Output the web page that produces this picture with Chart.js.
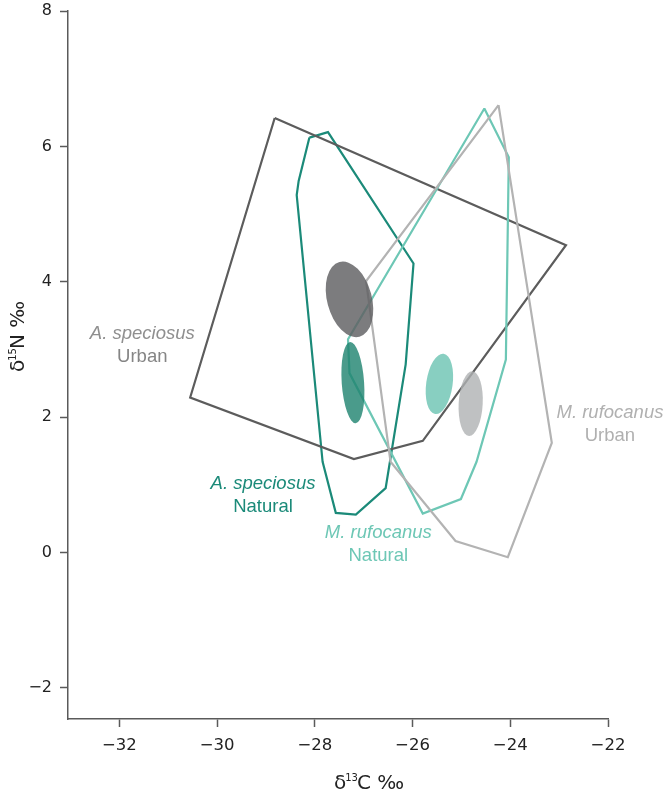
<!DOCTYPE html>
<html>
<head>
<meta charset="utf-8">
<script src="https://cdn.jsdelivr.net/npm/chart.js@4"></script>
<style>
  html, body { margin: 0; background: #fff; }
</style>
</head>
<body>
<canvas id="chart" width="664" height="797"></canvas>
<script>
// convex hulls (δ13C, δ15N) per group
const speciosusUrbanX = [-28.82, -22.86, -25.79, -27.20, -30.55];
const speciosusUrbanY = [6.42, 4.54, 1.65, 1.38, 2.29];

const speciosusNaturalX = [-28.11, -27.73, -25.98, -26.14, -26.55, -27.16, -27.57, -27.84, -28.37, -28.33];
const speciosusNaturalY = [6.13, 6.21, 4.27, 2.78, 0.95, 0.56, 0.585, 1.34, 5.28, 5.49];

const rufocanusNaturalX = [-24.53, -24.03, -24.09, -24.69, -25.01, -25.79, -27.29, -27.32];
const rufocanusNaturalY = [6.56, 5.84, 2.85, 1.34, 0.79, 0.575, 2.65, 3.15];

const rufocanusUrbanX = [-24.24, -23.15, -24.05, -25.12, -26.45, -26.95];
const rufocanusUrbanY = [6.61, 1.62, -0.07, 0.17, 1.34, 4.01];

// standard ellipses: A. speciosus urban, A. speciosus natural, M. rufocanus natural, M. rufocanus urban
const ellipseX = [-27.29, -27.22, -25.45, -24.81];
const ellipseY = [3.74, 2.51, 2.49, 2.20];
const ellipseRx = [0.457, 0.229, 0.270, 0.246];
const ellipseRy = [0.571, 0.601, 0.449, 0.478];
const ellipseTilt = [-15, -4, 8, 3];

const xTicks = [-32, -30, -28, -26, -24, -22];
const yTicks = [-2, 0, 2, 4, 6, 8];

const AXIS = "#5a5a5a";
const ellipseColors = [
  "rgba(95,95,97,0.82)",
  "rgba(29,130,110,0.8)",
  "rgba(106,195,178,0.8)",
  "rgba(175,178,179,0.8)",
];

function hull(xs, ys) {
  const pts = xs.map((x, i) => ({ x, y: ys[i] }));
  pts.push(pts[0]);
  return pts;
}

function line(data, color) {
  return {
    data,
    showLine: true,
    borderColor: color,
    borderWidth: 2.2,
    pointRadius: 0,
    fill: false,
    tension: 0,
  };
}

const minus = (v) => (v < 0 ? "\u2212" + Math.abs(v) : String(v));

// group labels, placed in data coordinates
const notes = [
  { x: -31.53, y: 3.225, name: "A. speciosus", habitat: "Urban", c1: "#8f8f8f", c2: "#858585" },
  { x: -29.06, y: 1.02, name: "A. speciosus", habitat: "Natural", c1: "#1b8a79", c2: "#1b8a79" },
  { x: -26.70, y: 0.288, name: "M. rufocanus", habitat: "Natural", c1: "#6dc7b5", c2: "#6dc7b5" },
  { x: -21.96, y: 2.058, name: "M. rufocanus", habitat: "Urban", c1: "#b0b0b0", c2: "#b0b0b0" },
];

const ellipsePlugin = {
  id: "ellipses",
  afterDatasetsDraw(chart) {
    const { ctx, scales: { x, y } } = chart;
    ellipseX.forEach((cx, i) => {
      const px = x.getPixelForValue(cx);
      const py = y.getPixelForValue(ellipseY[i]);
      const rx = Math.abs(x.getPixelForValue(cx + ellipseRx[i]) - px);
      const ry = Math.abs(y.getPixelForValue(ellipseY[i] + ellipseRy[i]) - py);
      ctx.save();
      ctx.beginPath();
      ctx.ellipse(px, py, rx, ry, (ellipseTilt[i] * Math.PI) / 180, 0, Math.PI * 2);
      ctx.fillStyle = ellipseColors[i];
      ctx.fill();
      ctx.restore();
    });
  },
};

function drawTitle(ctx, sup, letter) {
  ctx.font = "20px 'DejaVu Sans'";
  ctx.textBaseline = "alphabetic";
  ctx.textAlign = "left";
  let cx = 0;
  ctx.fillText("\u03b4", cx, 0);
  cx += ctx.measureText("\u03b4").width;
  ctx.font = "10px 'DejaVu Sans'";
  ctx.fillText(sup, cx - 1, -8);
  cx += ctx.measureText(sup).width - 2;
  ctx.font = "20px 'DejaVu Sans'";
  ctx.fillText(letter + " \u2030", cx, 0);
}

const textPlugin = {
  id: "texts",
  afterDraw(chart) {
    const { ctx, scales: { x, y } } = chart;
    ctx.save();
    ctx.textAlign = "center";
    ctx.textBaseline = "middle";
    for (const n of notes) {
      const px = x.getPixelForValue(n.x);
      const py = y.getPixelForValue(n.y);
      ctx.font = "italic 18.5px 'Liberation Sans', Arial, sans-serif";
      ctx.fillStyle = n.c1;
      ctx.fillText(n.name, px, py);
      ctx.font = "18.5px 'Liberation Sans', Arial, sans-serif";
      ctx.fillStyle = n.c2;
      ctx.fillText(n.habitat, px, py + 23);
    }
    ctx.fillStyle = "#222";
    // x title
    ctx.save();
    ctx.translate(334, 789);
    drawTitle(ctx, "13", "C");
    ctx.restore();
    // y title
    ctx.save();
    ctx.translate(24, 372);
    ctx.rotate(-Math.PI / 2);
    drawTitle(ctx, "15", "N");
    ctx.restore();
    ctx.restore();
  },
};

new Chart(document.getElementById("chart"), {
  type: "scatter",
  data: {
    datasets: [
      line(hull(rufocanusUrbanX, rufocanusUrbanY), "#b3b3b3"),
      line(hull(rufocanusNaturalX, rufocanusNaturalY), "#6dc7b5"),
      line(hull(speciosusUrbanX, speciosusUrbanY), "#5c5c5c"),
      line(hull(speciosusNaturalX, speciosusNaturalY), "#1b8a79"),
    ],
  },
  options: {
    responsive: false,
    animation: false,
    devicePixelRatio: 1,
    layout: { padding: { top: 11, right: 56, bottom: 0, left: 0 } },
    plugins: { legend: { display: false }, tooltip: { enabled: false } },
    scales: {
      x: {
        type: "linear",
        min: -33.05,
        max: -22,
        afterBuildTicks: (s) => { s.ticks = xTicks.map((value) => ({ value })); },
        afterFit: (s) => { s.height = 78; s.paddingLeft = 0; s.paddingRight = 0; },
        ticks: {
          callback: minus,
          color: "#222",
          padding: 9,
          maxRotation: 0,
          font: { family: "'DejaVu Sans'", size: 16.5 },
        },
        grid: { drawOnChartArea: false, tickLength: 8, tickColor: AXIS, tickWidth: 1.5 },
        border: { display: true, color: AXIS, width: 1.5 },
      },
      y: {
        type: "linear",
        min: -2.46,
        max: 8,
        afterBuildTicks: (s) => { s.ticks = yTicks.map((value) => ({ value })); },
        afterFit: (s) => { s.width = 68; s.paddingTop = 0; s.paddingBottom = 0; },
        ticks: {
          callback: minus,
          color: "#222",
          padding: 8,
          font: { family: "'DejaVu Sans'", size: 16 },
        },
        grid: { drawOnChartArea: false, tickLength: 8, tickColor: AXIS, tickWidth: 1.5 },
        border: { display: true, color: AXIS, width: 1.5 },
      },
    },
  },
  plugins: [ellipsePlugin, textPlugin],
});
</script>
</body>
</html>
